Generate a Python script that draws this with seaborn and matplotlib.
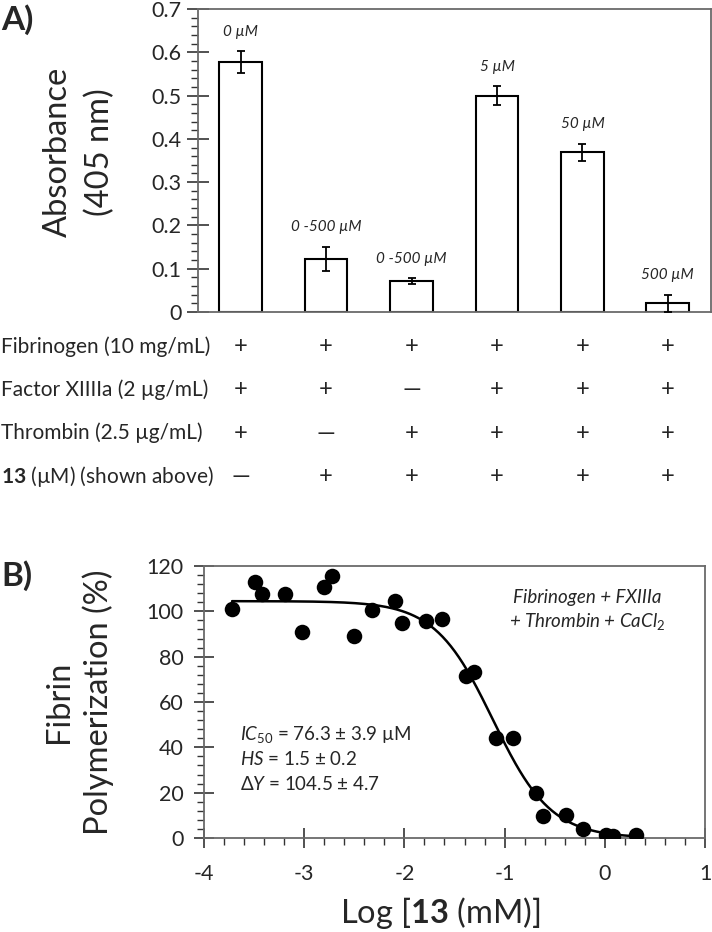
import numpy as np
import pandas as pd
import matplotlib
matplotlib.use("Agg")
import matplotlib.pyplot as plt
import seaborn as sns
from matplotlib import transforms
from matplotlib.ticker import MultipleLocator

# ---------------- data ----------------
conditions = ["Control", "No thrombin", "No FXIIIa", "5 uM", "50 uM", "500 uM"]
absorbance = [0.577, 0.123, 0.071, 0.500, 0.369, 0.020]
abs_err = [0.025, 0.028, 0.007, 0.021, 0.020, 0.020]
conc_labels = ["0 µM", "0 -500 µM", "0 -500 µM", "5 µM", "50 µM", "500 µM"]

row_labels = ["Fibrinogen (10 mg/mL)", "Factor XIIIIa (2 µg/mL)",
              "Thrombin (2.5 µg/mL)", r"$\mathbf{13}$ (µM) (shown above)"]
row_fibrinogen = ["+", "+", "+", "+", "+", "+"]
row_fxiiia = ["+", "+", "—", "+", "+", "+"]
row_thrombin = ["+", "—", "+", "+", "+", "+"]
row_cmpd = ["—", "+", "+", "+", "+", "+"]

log_conc = [-3.72, -3.49, -3.42, -3.19, -3.02, -2.80, -2.72, -2.50, -2.32, -2.09,
            -2.02, -1.78, -1.62, -1.39, -1.31, -1.09, -0.92, -0.69, -0.62, -0.39,
            -0.22, 0.01, 0.08, 0.31]
polymerization = [101.1, 112.8, 107.8, 107.8, 90.9, 110.8, 115.5, 89.2, 100.4, 104.7,
                  94.9, 95.6, 96.8, 71.5, 73.2, 44.2, 43.9, 20.0, 9.7, 10.3,
                  3.8, 1.4, 1.1, 1.4]
ic50_uM = 76.3
hill_slope = 1.5
delta_y = 104.5

# ---------------- style ----------------
sns.set_style("white")
plt.rcParams["font.family"] = ["Lato", "DejaVu Sans"]
plt.rcParams["mathtext.fontset"] = "custom"
plt.rcParams["mathtext.rm"] = "Lato"
plt.rcParams["mathtext.it"] = "Lato:italic"
plt.rcParams["mathtext.bf"] = "Lato:bold"
plt.rcParams["mathtext.fallback"] = "stixsans"
plt.rcParams["axes.unicode_minus"] = False

W, H = 712, 932
fig = plt.figure(figsize=(W / 100, H / 100), dpi=100)

spine_col = "#6a6a6a"
tick_col = "#333333"


def style_axes(ax):
    for s in ax.spines.values():
        s.set_visible(True)
        s.set_color(spine_col)
        s.set_linewidth(1.3)


def fx(px):
    return px / W


def fy(py):
    return 1 - py / H


# ---------------- panel A ----------------
axA = fig.add_axes([fx(198), fy(312), 512.5 / W, 303 / H])
dfA = pd.DataFrame({"condition": conditions, "absorbance": absorbance})
sns.barplot(data=dfA, x="condition", y="absorbance", color="white",
            edgecolor="black", linewidth=1.5, width=0.5, ax=axA, errorbar=None,
            saturation=1)
xpos = np.arange(len(conditions))
axA.errorbar(xpos, absorbance, yerr=abs_err, fmt="none", ecolor="black",
             elinewidth=1.3, capsize=3, capthick=1.3, zorder=5)
for x, v, e, lab in zip(xpos, absorbance, abs_err, conc_labels):
    axA.annotate(lab, (x, v + e), xytext=(0, 9), textcoords="offset points",
                 ha="center", va="bottom", fontsize=11, fontstyle="italic")
axA.set_xlim(-0.5, 5.5)
axA.set_ylim(0, 0.7)
axA.yaxis.set_minor_locator(MultipleLocator(0.02))
axA.set_yticks(np.arange(0, 0.71, 0.1))
axA.set_yticklabels(["0", "0.1", "0.2", "0.3", "0.4", "0.5", "0.6", "0.7"])
axA.tick_params(axis="y", which="major", direction="inout", length=16, width=1.2,
                color=tick_col, labelsize=15.5, pad=4, left=True)
axA.tick_params(axis="y", which="minor", direction="out", length=5, width=1.0,
                color=tick_col, left=True)
axA.set_xticks([])
axA.set_xlabel("")
axA.set_ylabel("")
style_axes(axA)
fig.text(fx(79), fy(152), "Absorbance\n(405 nm)", rotation=90, ha="center",
         va="center", fontsize=23.5, linespacing=1.45)

# table under panel A
trans = transforms.blended_transform_factory(axA.transData, fig.transFigure)
row_y = [347, 390, 433, 477]
rows = [row_fibrinogen, row_fxiiia, row_thrombin, row_cmpd]
for lab, yy, signs in zip(row_labels, row_y, rows):
    fig.text(fx(1), fy(yy), lab, ha="left", va="center", fontsize=15)
    for x, s in zip(xpos, signs):
        axA.text(x, fy(yy), s, transform=trans, ha="center", va="center",
                 fontsize=17, clip_on=False)

fig.text(fx(1), fy(20), "A)", ha="left", va="center", fontsize=24,
         fontweight="bold")
fig.text(fx(1), fy(576), "B)", ha="left", va="center", fontsize=24,
         fontweight="bold")

# ---------------- panel B ----------------
axB = fig.add_axes([fx(204), fy(838), 501 / W, 272 / H])
dfB = pd.DataFrame({"logc": log_conc, "pct": polymerization})
log_ic50 = np.log10(ic50_uM / 1000.0)
xfit = np.linspace(min(log_conc), max(log_conc), 300)
yfit = delta_y / (1 + 10 ** ((xfit - log_ic50) * hill_slope))
sns.lineplot(x=xfit, y=yfit, color="black", linewidth=1.8, ax=axB, zorder=2)
sns.scatterplot(data=dfB, x="logc", y="pct", color="black", s=125,
                edgecolor="black", linewidth=0, ax=axB, zorder=3)
axB.set_xlim(-4, 1)
axB.set_ylim(0, 120)
axB.xaxis.set_major_locator(MultipleLocator(1))
axB.xaxis.set_minor_locator(MultipleLocator(0.2))
axB.yaxis.set_major_locator(MultipleLocator(20))
axB.yaxis.set_minor_locator(MultipleLocator(4))
axB.tick_params(axis="both", which="major", direction="inout", length=15, width=1.2,
                color=tick_col, labelsize=15.5, bottom=True, left=True)
axB.tick_params(axis="x", which="major", pad=11)
axB.tick_params(axis="y", which="major", pad=7)
axB.tick_params(axis="both", which="minor", direction="out", length=5, width=1.0,
                color=tick_col, bottom=True, left=True)
axB.set_xlabel("")
axB.set_ylabel("")
style_axes(axB)
fig.text(fx(440), fy(913), r"Log [$\mathbf{13}$ (mM)]", ha="center", va="center",
         fontsize=23.5)
fig.text(fx(79), fy(702), "Fibrin\nPolymerization (%)", rotation=90, ha="center",
         va="center", fontsize=23.5, linespacing=1.3)

axB.text(0.765, 0.885, "Fibrinogen + FXIIIa", transform=axB.transAxes,
         ha="center", va="center", fontsize=13.5, fontstyle="italic")
axB.text(0.765, 0.797, r"+ Thrombin + CaCl$_{\mathit{2}}$", transform=axB.transAxes,
         ha="center", va="center", fontsize=13.5, fontstyle="italic")
axB.text(0.072, 0.380, r"$\mathit{IC_{50}}$ = 76.3 ± 3.9 µM", transform=axB.transAxes,
         ha="left", va="center", fontsize=13.5)
axB.text(0.072, 0.290, r"$\mathit{HS}$ = 1.5 ± 0.2", transform=axB.transAxes,
         ha="left", va="center", fontsize=13.5)
axB.text(0.072, 0.200, r"$\mathit{ΔY}$ = 104.5 ± 4.7", transform=axB.transAxes,
         ha="left", va="center", fontsize=13.5)

fig.savefig("out.png", dpi=100)
